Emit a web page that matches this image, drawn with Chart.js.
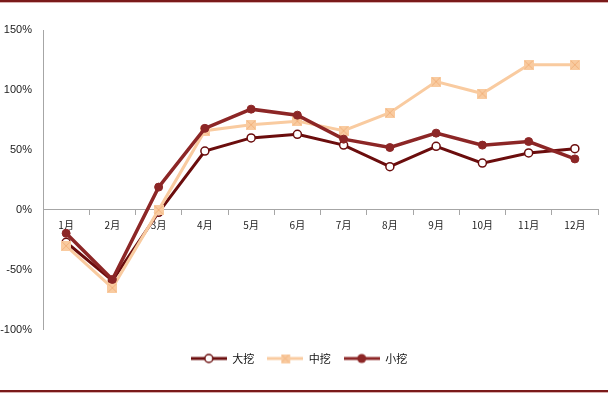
<!DOCTYPE html>
<html>
<head>
<meta charset="utf-8">
<script src="https://cdn.jsdelivr.net/npm/chart.js@4.4.1/dist/chart.umd.min.js"></script>
<style>
  html, body { margin: 0; padding: 0; background: #fff; }
  #wrap { position: relative; width: 608px; height: 394px; }
</style>
</head>
<body>
<div id="wrap"><canvas id="mainChart" width="608" height="394"></canvas></div>
<script>
// data (% change by month)
const months = ['1月', '2月', '3月', '4月', '5月', '6月', '7月', '8月', '9月', '10月', '11月', '12月'];
const daWa = [-27, -59, -2, 49, 60, 63, 54, 36, 53, 39, 47.5, 51];
const zhongWa = [-30, -65, 0, 66, 71, 74, 66, 81, 107, 97, 121, 121];
const xiaoWa = [-19.5, -58, 19, 68, 84, 79, 59, 52, 64, 54, 57, 42.5];
const yTicks = [-100, -50, 0, 50, 100, 150];

const DARK = '#6b0d0d';
const PEACH = '#f9cba0';
const RED = '#8c2626';

// square with an X, like the original marker
function crossSquare(size) {
    const c = document.createElement('canvas');
    c.width = size; c.height = size;
    const g = c.getContext('2d');
    g.fillStyle = PEACH;
    g.fillRect(0, 0, size, size);
    g.strokeStyle = '#f2b27c';
    g.lineWidth = 1;
    g.beginPath();
    g.moveTo(1, 1); g.lineTo(size - 1, size - 1);
    g.moveTo(size - 1, 1); g.lineTo(1, size - 1);
    g.stroke();
    return c;
}

function legendIcon(color, marker) {
    const c = document.createElement('canvas');
    c.width = 36; c.height = 12;
    const g = c.getContext('2d');
    g.strokeStyle = color;
    g.lineWidth = 3;
    g.beginPath();
    g.moveTo(0, 6); g.lineTo(36, 6);
    g.stroke();
    if (marker === 'hollow') {
        g.fillStyle = '#fff';
        g.lineWidth = 1.5;
        g.beginPath(); g.arc(18, 6, 4, 0, Math.PI * 2); g.fill(); g.stroke();
    } else if (marker === 'square') {
        g.drawImage(crossSquare(9), 13.5, 1.5);
    } else {
        g.fillStyle = color;
        g.beginPath(); g.arc(18, 6, 4.5, 0, Math.PI * 2); g.fill();
    }
    return c;
}

const icons = [legendIcon(DARK, 'hollow'), legendIcon(PEACH, 'square'), legendIcon(RED, 'dot')];

const frameLines = {
    id: 'frameLines',
    afterDraw(chart) {
        const ctx = chart.ctx;
        ctx.save();
        ctx.fillStyle = '#7a1a1a';
        ctx.fillRect(0, 0, 608, 2);
        ctx.fillRect(0, 390, 608, 2);
        ctx.fillStyle = '#d9b0b0';
        ctx.fillRect(0, 2, 608, 1);
        ctx.fillRect(0, 392, 608, 1);
        ctx.restore();
    }
};

new Chart(document.getElementById('mainChart'), {
    type: 'line',
    data: {
        labels: months,
        datasets: [{
            label: '大挖',
            data: daWa,
            borderColor: DARK,
            borderWidth: 3,
            pointRadius: 4,
            pointBackgroundColor: '#fff',
            pointBorderColor: DARK,
            pointBorderWidth: 1.5,
            tension: 0,
            order: 3
        }, {
            label: '中挖',
            data: zhongWa,
            borderColor: PEACH,
            borderWidth: 3,
            pointStyle: crossSquare(10),
            tension: 0,
            order: 2
        }, {
            label: '小挖',
            data: xiaoWa,
            borderColor: RED,
            borderWidth: 3.5,
            pointRadius: 4,
            pointBorderWidth: 1,
            pointBackgroundColor: RED,
            pointBorderColor: RED,
            tension: 0,
            order: 1
        }]
    },
    options: {
        responsive: false,
        animation: false,
        layout: { padding: { top: 30, right: 10, bottom: 20, left: 0 } },
        plugins: {
            tooltip: { enabled: false },
            legend: {
                position: 'bottom',
                // empty title just pushes the items down a bit
                title: { display: true, text: ' ', font: { size: 1 }, padding: { top: 9, bottom: 0 } },
                labels: {
                    usePointStyle: true,
                    pointStyleWidth: 36,
                    padding: 13,
                    color: '#111',
                    font: { family: '"Noto Sans CJK SC"', size: 11 },
                    generateLabels(chart) {
                        return chart.data.datasets.map((ds, i) => ({
                            text: ds.label,
                            pointStyle: icons[i],
                            fillStyle: 'transparent',
                            strokeStyle: 'transparent',
                            lineWidth: 0,
                            fontColor: '#111',
                            datasetIndex: i
                        }));
                    }
                }
            }
        },
        scales: {
            x: {
                position: { y: 0 },
                offset: true,
                grid: { display: true, drawOnChartArea: false, offset: true, tickLength: 5, color: '#a6a6a6' },
                border: { color: '#a6a6a6', width: 1 },
                ticks: { color: '#222', padding: 4, maxRotation: 0, font: { family: '"Noto Sans CJK SC"', size: 10 } }
            },
            y: {
                min: -100,
                max: 150,
                afterBuildTicks(scale) { scale.ticks = yTicks.map(v => ({ value: v })); },
                afterFit(scale) { scale.width = 43; },
                grid: { display: false, drawTicks: false },
                border: { color: '#a6a6a6', width: 1 },
                ticks: {
                    color: '#222',
                    padding: 11,
                    font: { family: '"Liberation Sans"', size: 11 },
                    callback: v => v + '%'
                }
            }
        }
    },
    plugins: [frameLines]
});
</script>
</body>
</html>
